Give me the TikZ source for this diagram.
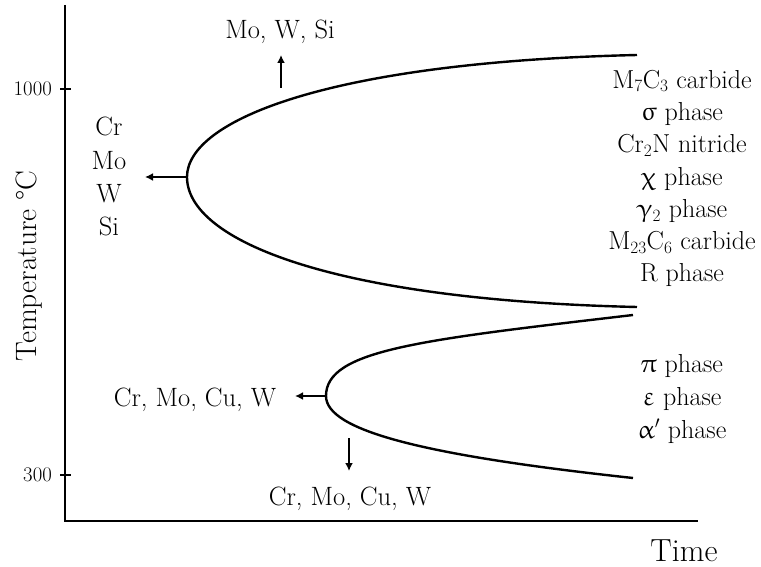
\documentclass[tikz,border=0pt]{standalone}
\usepackage{fontspec}
\usepackage{upgreek}
\usetikzlibrary{arrows.meta}

\begin{document}
\begin{tikzpicture}[x=1pt,y=1pt,>={Latex[length=8pt,width=8pt]}]
  \tikzstyle{axis}=[line width=2.6pt]
  \tikzstyle{ccurve}=[line width=2.4pt]
  \tikzstyle{arrow}=[->, line width=2pt]
  \tikzstyle{txt}=[font=\fontsize{26.5}{32}\selectfont, inner sep=0pt, anchor=base]
  \tikzstyle{ticklbl}=[font=\huge, inner sep=0pt, anchor=east]

  \useasboundingbox (0,0) rectangle (761,566);

  % axes and ticks
  \coordinate (origin) at (65,45);
  \coordinate (ytop) at (65,561);
  \coordinate (xend) at (698,45);
  \draw[axis] (ytop) -- (origin) -- (xend);
  \draw[line width=2pt] (60,477) -- (71,477);
  \draw[line width=2pt] (60,91) -- (71,91);
  \node[ticklbl] (t1000) at (52,477) {1000};
  \node[ticklbl] (t300) at (52,91) {300};
  \node[font=\fontsize{29.5}{36}\selectfont, inner sep=0pt, anchor=base, rotate=90] (ylab) at (36,300) {Temperature °C};
  \node[font=\fontsize{32}{38}\selectfont, inner sep=0pt, anchor=base] (xlab) at (684,5) {Time};

  % upper C-curve
  \coordinate (nose1) at (187,389);
  \draw[ccurve] (637,511) .. controls (330,504) and (187,446) .. (nose1)
    .. controls (187,326) and (330,266) .. (637,259);

  % lower C-curve
  \coordinate (nose2) at (326,170);
  \draw[ccurve] (633,251) .. controls (420,226) and (326,216) .. (nose2)
    .. controls (326,136) and (420,111) .. (633,88);

  % shifts of the upper curve
  \coordinate (left1) at (145,389);
  \draw[arrow] (nose1) -- (left1);
  \node[txt, align=center, font=\fontsize{26.5}{33.5}\selectfont] (el1) at (109,330) {Cr\\Mo\\W\\Si};
  \coordinate (up0) at (281,478);
  \coordinate (up1) at (281,511);
  \draw[arrow] (up0) -- (up1);
  \node[txt] (el2) at (280,527) {Mo, W, Si};

  % shifts of the lower curve
  \coordinate (left2) at (295,170);
  \draw[arrow] (nose2) -- (left2);
  \node[txt] (el3) at (195,160) {Cr, Mo, Cu, W};
  \coordinate (dn0) at (349,128);
  \coordinate (dn1) at (349,95);
  \draw[arrow] (dn0) -- (dn1);
  \node[txt] (el4) at (350,61) {Cr, Mo, Cu, W};

  % phases
  \node[txt, align=center, font=\fontsize{26}{32.3}\selectfont] (hiphases) at (682,284)
    {M$_7$C$_3$ carbide\\$\upsigma$ phase\\Cr$_2$N nitride\\$\upchi$ phase\\$\upgamma_2$ phase\\M$_{23}$C$_6$ carbide\\R phase};
  \node[txt, align=center, font=\fontsize{26}{33}\selectfont] (lophases) at (682,128)
    {$\uppi$ phase\\$\upvarepsilon$ phase\\$\upalpha'$ phase};
\end{tikzpicture}
\end{document}
